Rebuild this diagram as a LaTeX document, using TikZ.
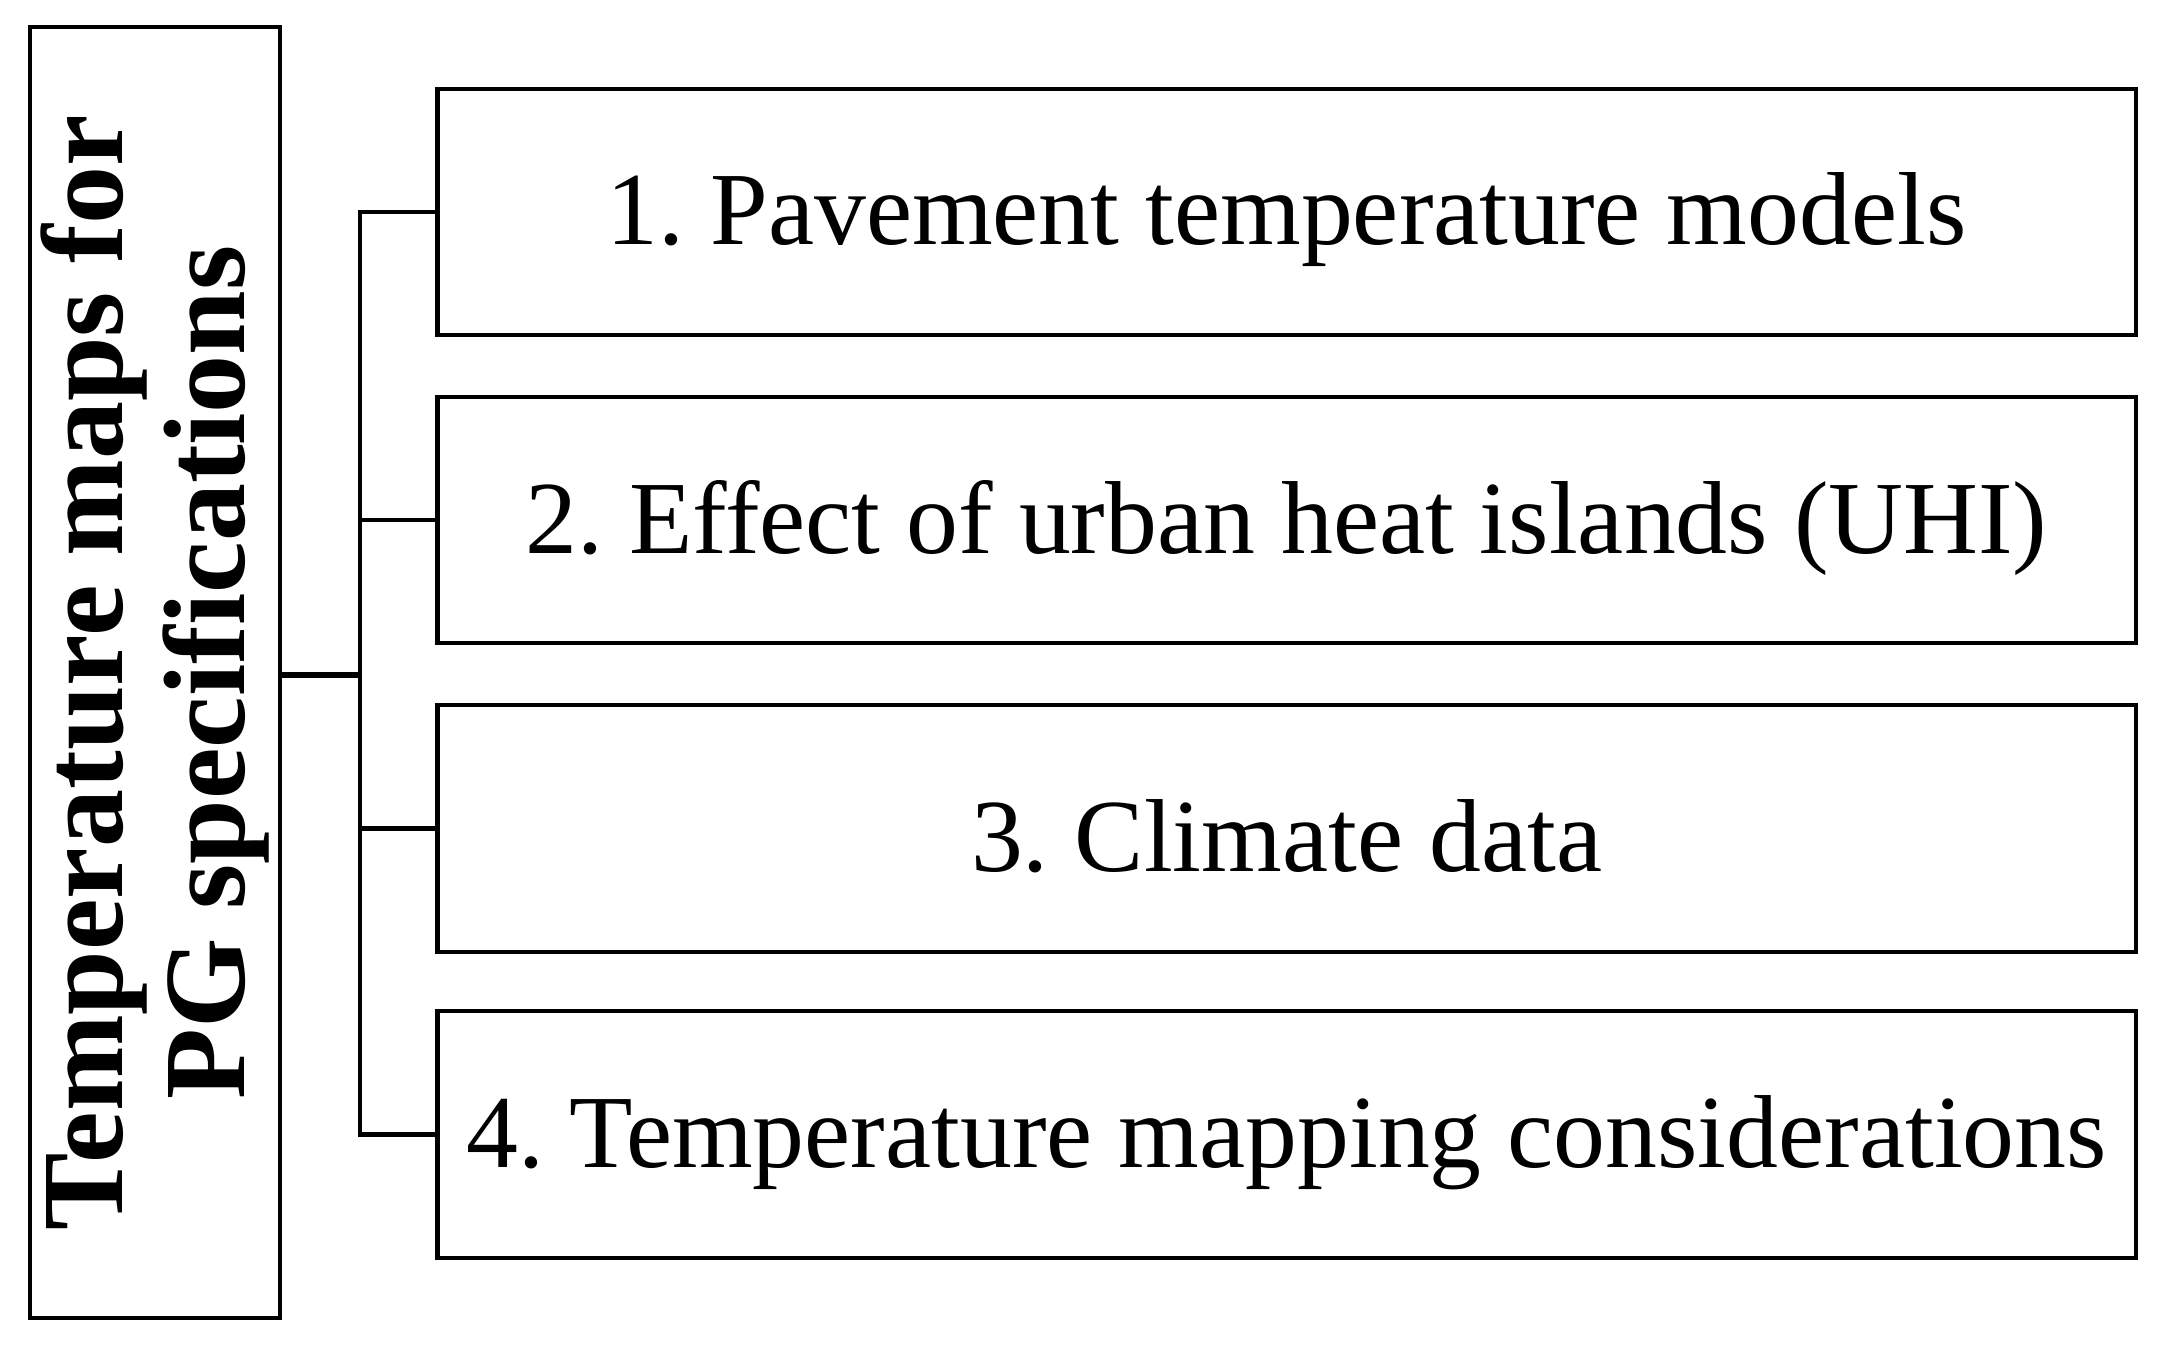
\documentclass[tikz,border=0pt]{standalone}
\usepackage{fontspec}
\setmainfont{Liberation Serif}
\frenchspacing
\begin{document}
\begin{tikzpicture}[x=0.01cm,y=-0.01cm,
  box/.style={draw=black,line width=1.15pt,minimum width=16.97cm,minimum height=2.46cm,inner sep=0pt,font=\fontsize{29.5}{33}\selectfont},
  lbox/.style={draw=black,line width=1.15pt,minimum width=2.5cm,minimum height=12.91cm,inner sep=0pt},
  lab/.style={yshift=-0.08cm},
  conn/.style={line width=1.15pt}]
\useasboundingbox (0,0) rectangle (2164,1348);
\node[lbox] (L) at (155,672.5) {};
\node[rotate=90,align=center,font=\bfseries\fontsize{33}{34.5}\selectfont] (Lt) at (L.center) {\frenchspacing Temperature maps for\\PG specifications};
\node[box] (b1) at (1286.5,212) {};
\node[box] (b2) at (1286.5,520) {};
\node[box] (b3) at (1286.5,828.5) {};
\node[box] (b4) at (1286.5,1134.5) {};
\node[lab,font=\fontsize{29.5}{33}\selectfont] (t1) at (b1.center) {1. Pavement temperature models};
\node[lab,font=\fontsize{29.5}{33}\selectfont] (t2) at (b2.center) {2. Effect of urban heat islands (UHI)};
\node[lab,font=\fontsize{29.5}{33}\selectfont] (t3) at (b3.center) {3. Climate data};
\node[lab,font=\fontsize{29.5}{33}\selectfont] (t4) at (b4.center) {4. Temperature mapping considerations};
\coordinate (s) at (360,675);
\draw[line width=1.6pt] (L.east |- s) -- (s);
\draw[conn] (b1.west) -| (s);
\draw[conn] (b4.west) -| (s);
\draw[conn] (b2.west) -- (b2.west -| s);
\draw[conn] (b3.west) -- (b3.west -| s);
\end{tikzpicture}
\end{document}
